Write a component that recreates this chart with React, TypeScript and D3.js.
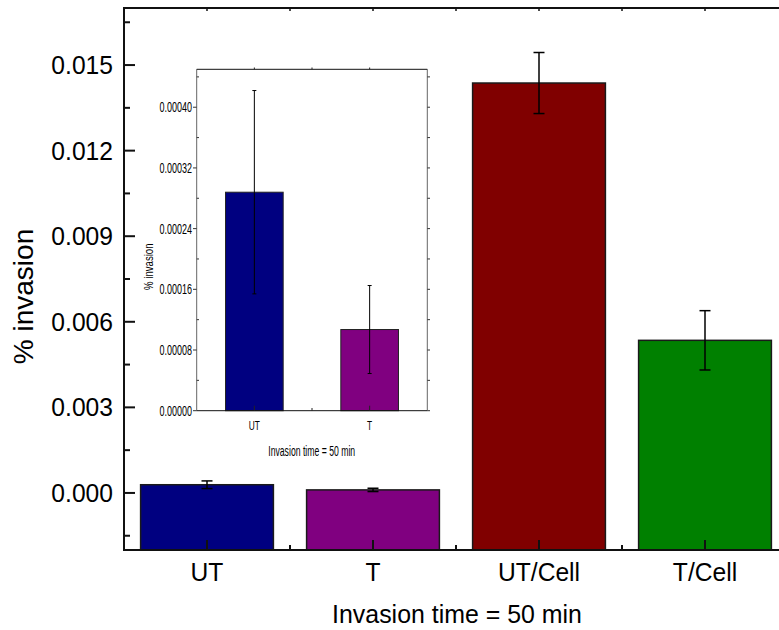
import React from 'react';
import * as d3 from 'd3';

// main chart data
const categories = ['UT', 'T', 'UT/Cell', 'T/Cell'];
const means = [0.000288, 0.000107, 0.01437, 0.00535];
const errors = [0.000134, 0.000058, 0.00107, 0.00104];
const colors = ['#000080', '#800080', '#800000', '#008000'];
const yTicks = [0, 0.003, 0.006, 0.009, 0.012, 0.015];

// inset data
const insetCategories = ['UT', 'T'];
const insetMeans = [0.000288, 0.000107];
const insetErrors = [0.000134, 0.000058];
const insetColors = ['#000080', '#800080'];
const insetTicks = [0, 0.00008, 0.00016, 0.00024, 0.00032, 0.0004];

const FONT = '"Liberation Sans", Arial, sans-serif';

function App() {
  // main axes
  const x = d3.scaleLinear().domain([0.5, 4.5]).range([124, 788]);
  const y = d3.scaleLinear().domain([-0.002, 0.017]).range([550, 8]);
  const step = x(2) - x(1);
  const barW = step * 0.8;
  const yMinor = d3.range(-0.0015, 0.017, 0.003);
  const xMinor = d3.range(1.5, 4.5, 1);

  // inset axes
  const ix = d3.scaleLinear().domain([0.5, 2.5]).range([196.7, 427.3]);
  const iy = d3.scaleLinear().domain([0, 0.00045]).range([410.7, 69.3]);
  const iStep = ix(2) - ix(1);
  const iBarW = iStep * 0.5;
  const iyMinor = d3.range(0.00004, 0.00045, 0.00008);

  const fmt = d3.format('.3f');
  const ifmt = d3.format('.5f');

  return (
    <svg width={779} height={630} style={{ position: 'absolute', left: 0, top: 0, background: '#fff' }}>
      <rect x={0} y={0} width={779} height={630} fill="#fff" />

      {/* main bars */}
      {categories.map((c, i) => (
        <rect key={c} x={x(i + 1) - barW / 2} y={y(means[i])} width={barW}
          height={y(-0.002) - y(means[i])} fill={colors[i]} stroke="#1a1a1a" strokeWidth={1.5} />
      ))}
      {/* main error bars */}
      {categories.map((c, i) => {
        const cx = x(i + 1);
        const t = y(means[i] + errors[i]);
        const b = y(means[i] - errors[i]);
        return (
          <g key={'e' + c} stroke="#000" strokeWidth={1.5}>
            <line x1={cx} x2={cx} y1={t} y2={b} />
            <line x1={cx - 5.5} x2={cx + 5.5} y1={t} y2={t} />
            <line x1={cx - 5.5} x2={cx + 5.5} y1={b} y2={b} />
          </g>
        );
      })}

      {/* main frame */}
      <g stroke="#111" strokeWidth={2} fill="none">
        <line x1={124} x2={124} y1={7} y2={551} />
        <line x1={123} x2={779} y1={550} y2={550} />
        <line x1={123} x2={779} y1={8} y2={8} />
      </g>
      {/* y ticks */}
      {yTicks.map(v => (
        <g key={'yt' + v}>
          <line x1={124} x2={135} y1={y(v)} y2={y(v)} stroke="#111" strokeWidth={2} />
          <text transform={`translate(113,${y(v) + 9}) scale(0.93,1)`} textAnchor="end" fontFamily={FONT} fontSize={26.5}>{fmt(v)}</text>
        </g>
      ))}
      {yMinor.map(v => (
        <line key={'ym' + v} x1={124} x2={130} y1={y(v)} y2={y(v)} stroke="#111" strokeWidth={2} />
      ))}
      {/* x ticks */}
      {categories.map((c, i) => (
        <g key={'xt' + c}>
          <line x1={x(i + 1)} x2={x(i + 1)} y1={550} y2={540} stroke="#111" strokeWidth={2} />
          <line x1={x(i + 1)} x2={x(i + 1)} y1={8} y2={11} stroke="#111" strokeWidth={1.5} />
          <text transform={`translate(${x(i + 1)},581) scale(0.93,1)`} textAnchor="middle" fontFamily={FONT} fontSize={26.5}>{c}</text>
        </g>
      ))}
      {xMinor.map(v => (
        <g key={'xm' + v}>
          <line x1={x(v)} x2={x(v)} y1={550} y2={545} stroke="#111" strokeWidth={2} />
          <line x1={x(v)} x2={x(v)} y1={8} y2={11} stroke="#111" strokeWidth={1.5} />
        </g>
      ))}
      {/* main titles */}
      <text transform="translate(457,623) scale(0.94,1)" textAnchor="middle" fontFamily={FONT} fontSize={26.5}>Invasion time = 50 min</text>
      <text transform="translate(33,296.5) rotate(-90)" textAnchor="middle" fontFamily={FONT} fontSize={28}>% invasion</text>

      {/* inset */}
      <g>
        <rect x={196.7} y={69.3} width={427.3 - 196.7} height={410.7 - 69.3} fill="#fff" />
        {insetCategories.map((c, i) => (
          <rect key={'ib' + c} x={ix(i + 1) - iBarW / 2} y={iy(insetMeans[i])} width={iBarW}
            height={iy(0) - iy(insetMeans[i])} fill={insetColors[i]} stroke="#222" strokeWidth={1} />
        ))}
        {insetCategories.map((c, i) => {
          const cx = ix(i + 1);
          const t = iy(insetMeans[i] + insetErrors[i]);
          const b = iy(insetMeans[i] - insetErrors[i]);
          return (
            <g key={'ie' + c} stroke="#000" strokeWidth={1}>
              <line x1={cx} x2={cx} y1={t} y2={b} />
              <line x1={cx - 2} x2={cx + 2} y1={t} y2={t} />
              <line x1={cx - 2} x2={cx + 2} y1={b} y2={b} />
            </g>
          );
        })}
        <g stroke="#333" strokeWidth={1} fill="none">
          <line x1={196.7} x2={196.7} y1={69.3} y2={410.7} stroke="#666" />
          <line x1={427.3} x2={427.3} y1={69.3} y2={410.7} stroke="#666" />
          <line x1={196.7} x2={427.3} y1={69.3} y2={69.3} stroke="#111" />
          <line x1={196.7} x2={427.3} y1={410.7} y2={410.7} stroke="#111" />
        </g>
        {insetTicks.map(v => (
          <g key={'it' + v}>
            <line x1={196.7} x2={193} y1={iy(v)} y2={iy(v)} stroke="#333" />
            <line x1={427.3} x2={430} y1={iy(v)} y2={iy(v)} stroke="#333" />
            <text transform={`translate(192,${iy(v) + 5}) scale(0.6,1)`} textAnchor="end" fontFamily={FONT} fontSize={15}>{ifmt(v)}</text>
          </g>
        ))}
        {iyMinor.map(v => (
          <g key={'im' + v}>
            <line x1={196.7} x2={199} y1={iy(v)} y2={iy(v)} stroke="#333" />
            <line x1={427.3} x2={430} y1={iy(v)} y2={iy(v)} stroke="#333" />
          </g>
        ))}
        {insetCategories.map((c, i) => (
          <g key={'ixt' + c}>
            <line x1={ix(i + 1)} x2={ix(i + 1)} y1={410.7} y2={405.7} stroke="#222" />
            <line x1={ix(i + 1)} x2={ix(i + 1)} y1={69.3} y2={67.5} stroke="#222" />
            <text transform={`translate(${ix(i + 1)},430) scale(0.64,1)`} textAnchor="middle" fontFamily={FONT} fontSize={13}>{c}</text>
          </g>
        ))}
        <line x1={ix(1.5)} x2={ix(1.5)} y1={410.7} y2={408} stroke="#222" />
        <line x1={ix(1.5)} x2={ix(1.5)} y1={69.3} y2={67.5} stroke="#222" />
        <text transform="translate(311.7,456) scale(0.62,1)" textAnchor="middle" fontFamily={FONT} fontSize={14}>Invasion time = 50 min</text>
        <text transform="translate(153,266.7) rotate(-90) scale(0.74,1)" textAnchor="middle" fontFamily={FONT} fontSize={13}>% invasion</text>
      </g>
    </svg>
  );
}

export default App;
